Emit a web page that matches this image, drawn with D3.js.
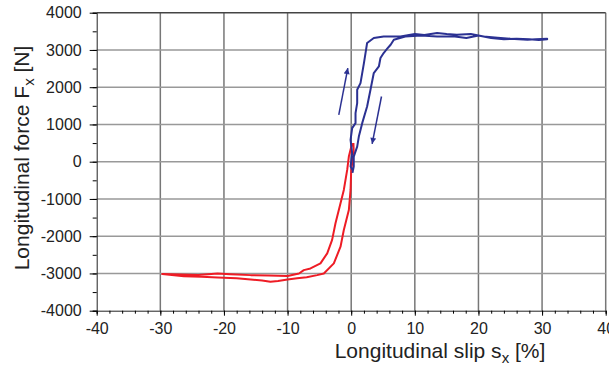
<!DOCTYPE html>
<html>
<head>
<meta charset="utf-8">
<script src="https://cdn.jsdelivr.net/npm/d3@7"></script>
<style>
  html, body { margin: 0; padding: 0; background: #fff; }
  text { font-family: "Liberation Sans", Arial, sans-serif; fill: #222; }
</style>
</head>
<body>
<div id="chart"></div>
<script>
// blue loop: outer branch up, upper plateau out, lower plateau back, inner branch down
const blueSlip = [0.3, -0.1, 0.15, -0.1, 0.15, 0.68, 0.68, 0.94, 0.94, 1.46, 1.73, 2.0, 2.25, 2.5, 3.55, 5.1, 7.75, 10, 11.5, 13.5, 15, 16.6, 18.8, 20.8, 23, 25, 27.7, 29, 30.8,
  30.8, 29.5, 28, 26, 24, 22, 20, 18.1, 16, 13.5, 11, 8.5, 6.7, 6.2, 5.66, 5.1, 4.6, 4.35, 3.55, 3.03, 2.5, 1.73, 1.2, 0.94, 0.4, 0.4, 0.2];
const blueForce = [-250, -130, 228, 586, 900, 1035, 1304, 1573, 1930, 2110, 2380, 2648, 2917, 3186, 3320, 3364, 3364, 3428, 3400, 3455, 3430, 3410, 3428, 3364, 3330, 3302, 3275, 3290, 3302,
  3285, 3270, 3285, 3300, 3290, 3320, 3390, 3320, 3370, 3364, 3390, 3360, 3275, 3140, 3033, 2917, 2783, 2557, 2380, 1930, 1482, 1035, 675, 406, 137, -130, -300];

// red loop: inner branch down, lower plateau out, upper plateau back, outer branch up
const redSlip = [0.35, 0.4, 0.0, -0.1, -0.37, -1.16, -1.68, -2.73, -4.3, -5.35, -7, -8.5, -10, -11.5, -12.7, -14, -15.8, -18, -21, -23.5, -26.3, -29.7,
  -27, -24, -21, -19, -15.8, -13, -10, -8.2, -7.45, -6.4, -4.83, -3.77, -3.0, -2.47, -1.68, -1.16, -0.63, -0.37, 0.15];
const redForce = [500, 228, -220, -758, -1296, -1834, -2282, -2730, -3000, -3045, -3100, -3130, -3160, -3200, -3223, -3190, -3160, -3130, -3110, -3090, -3075, -3017,
  -3030, -3040, -3000, -3020, -3045, -3055, -3070, -3000, -2910, -2865, -2730, -2460, -2100, -1654, -1116, -758, -220, 137, 497];

// direction arrows [slip0, force0, slip1, force1]
const arrowUp = [-1.95, 1258, -0.53, 2514];
const arrowDown = [4.76, 1750, 3.29, 479];

const xTicks = [-40, -30, -20, -10, 0, 10, 20, 30, 40];
const yTicks = [-4000, -3000, -2000, -1000, 0, 1000, 2000, 3000, 4000];

const W = 609, H = 367;
const margin = { top: 12.7, right: 3.3, bottom: 56.3, left: 96.7 };

const svg = d3.select("#chart").append("svg")
  .attr("width", W).attr("height", H);

const x = d3.scaleLinear().domain([-40, 40]).range([margin.left, W - margin.right]);
const y = d3.scaleLinear().domain([-4000, 4000]).range([H - margin.bottom, margin.top]);

// grid
svg.append("g").selectAll("line")
  .data(xTicks.slice(1))
  .join("line")
  .attr("x1", d => x(d)).attr("x2", d => x(d))
  .attr("y1", y(-4000)).attr("y2", y(4000))
  .attr("stroke", "#777").attr("stroke-width", 1.5);

svg.append("g").selectAll("line")
  .data(yTicks.slice(1))
  .join("line")
  .attr("x1", x(-40)).attr("x2", x(40))
  .attr("y1", d => y(d)).attr("y2", d => y(d))
  .attr("stroke", d => d === 4000 ? "#444" : "#999").attr("stroke-width", 1.5);

// axes with minor ticks, plain hyphen minus like the original
const fmt = d => String(d);
const xMinor = d3.range(-40, 40.1, 2);
const yMinor = d3.range(-4000, 4000.1, 500);

const xAxis = svg.append("g").attr("transform", `translate(0,${y(-4000)})`);
xAxis.call(d3.axisBottom(x).tickValues(xMinor).tickSize(3).tickFormat(""));
const xMajor = svg.append("g").attr("transform", `translate(0,${y(-4000)})`)
  .call(d3.axisBottom(x).tickValues(xTicks).tickSize(5).tickPadding(7).tickFormat(fmt));
xMajor.select(".domain").remove();
xMajor.selectAll("text").attr("font-size", 16).attr("fill", "#222");
xAxis.select(".domain").attr("stroke", "#222");

const yAxis = svg.append("g").attr("transform", `translate(${x(-40)},0)`);
yAxis.call(d3.axisLeft(y).tickValues(yMinor).tickSize(4).tickFormat(""));
const yMajor = svg.append("g").attr("transform", `translate(${x(-40)},0)`)
  .call(d3.axisLeft(y).tickValues(yTicks).tickSize(7).tickPadding(8).tickFormat(fmt));
yMajor.select(".domain").remove();
yMajor.selectAll("text").attr("font-size", 16).attr("fill", "#222");
yAxis.select(".domain").attr("stroke", "#222");

// curves
const line = d3.line().x(d => x(d[0])).y(d => y(d[1]));

svg.append("path")
  .datum(d3.zip(redSlip, redForce))
  .attr("d", line)
  .attr("fill", "none").attr("stroke", "#ee1c25").attr("stroke-width", 2)
  .attr("stroke-linejoin", "round");

svg.append("path")
  .datum(d3.zip(blueSlip, blueForce))
  .attr("d", line)
  .attr("fill", "none").attr("stroke", "#2b3192").attr("stroke-width", 2)
  .attr("stroke-linejoin", "round");

// arrows
svg.append("defs").append("marker")
  .attr("id", "head")
  .attr("viewBox", "0 0 10 10")
  .attr("refX", 10).attr("refY", 5)
  .attr("markerWidth", 9).attr("markerHeight", 6)
  .attr("markerUnits", "userSpaceOnUse")
  .attr("orient", "auto")
  .append("path").attr("d", "M0,0L10,5L0,10Z").attr("fill", "#2b3192");

svg.append("g").selectAll("line")
  .data([arrowUp, arrowDown])
  .join("line")
  .attr("x1", d => x(d[0])).attr("y1", d => y(d[1]))
  .attr("x2", d => x(d[2])).attr("y2", d => y(d[3]))
  .attr("stroke", "#2b3192").attr("stroke-width", 1.5)
  .attr("marker-end", "url(#head)");

// axis titles
const xt = svg.append("text")
  .attr("x", 440).attr("y", 358)
  .attr("text-anchor", "middle").attr("font-size", 21);
xt.append("tspan").text("Longitudinal slip s");
xt.append("tspan").attr("font-size", 15).attr("dy", 5).text("x");
xt.append("tspan").attr("dy", -5).text(" [%]");

const yt = svg.append("text")
  .attr("transform", "translate(29,158) rotate(-90)")
  .attr("text-anchor", "middle").attr("font-size", 21);
yt.append("tspan").text("Longitudinal force F");
yt.append("tspan").attr("font-size", 15).attr("dy", 5).text("x");
yt.append("tspan").attr("dy", -5).text(" [N]");
</script>
</body>
</html>
